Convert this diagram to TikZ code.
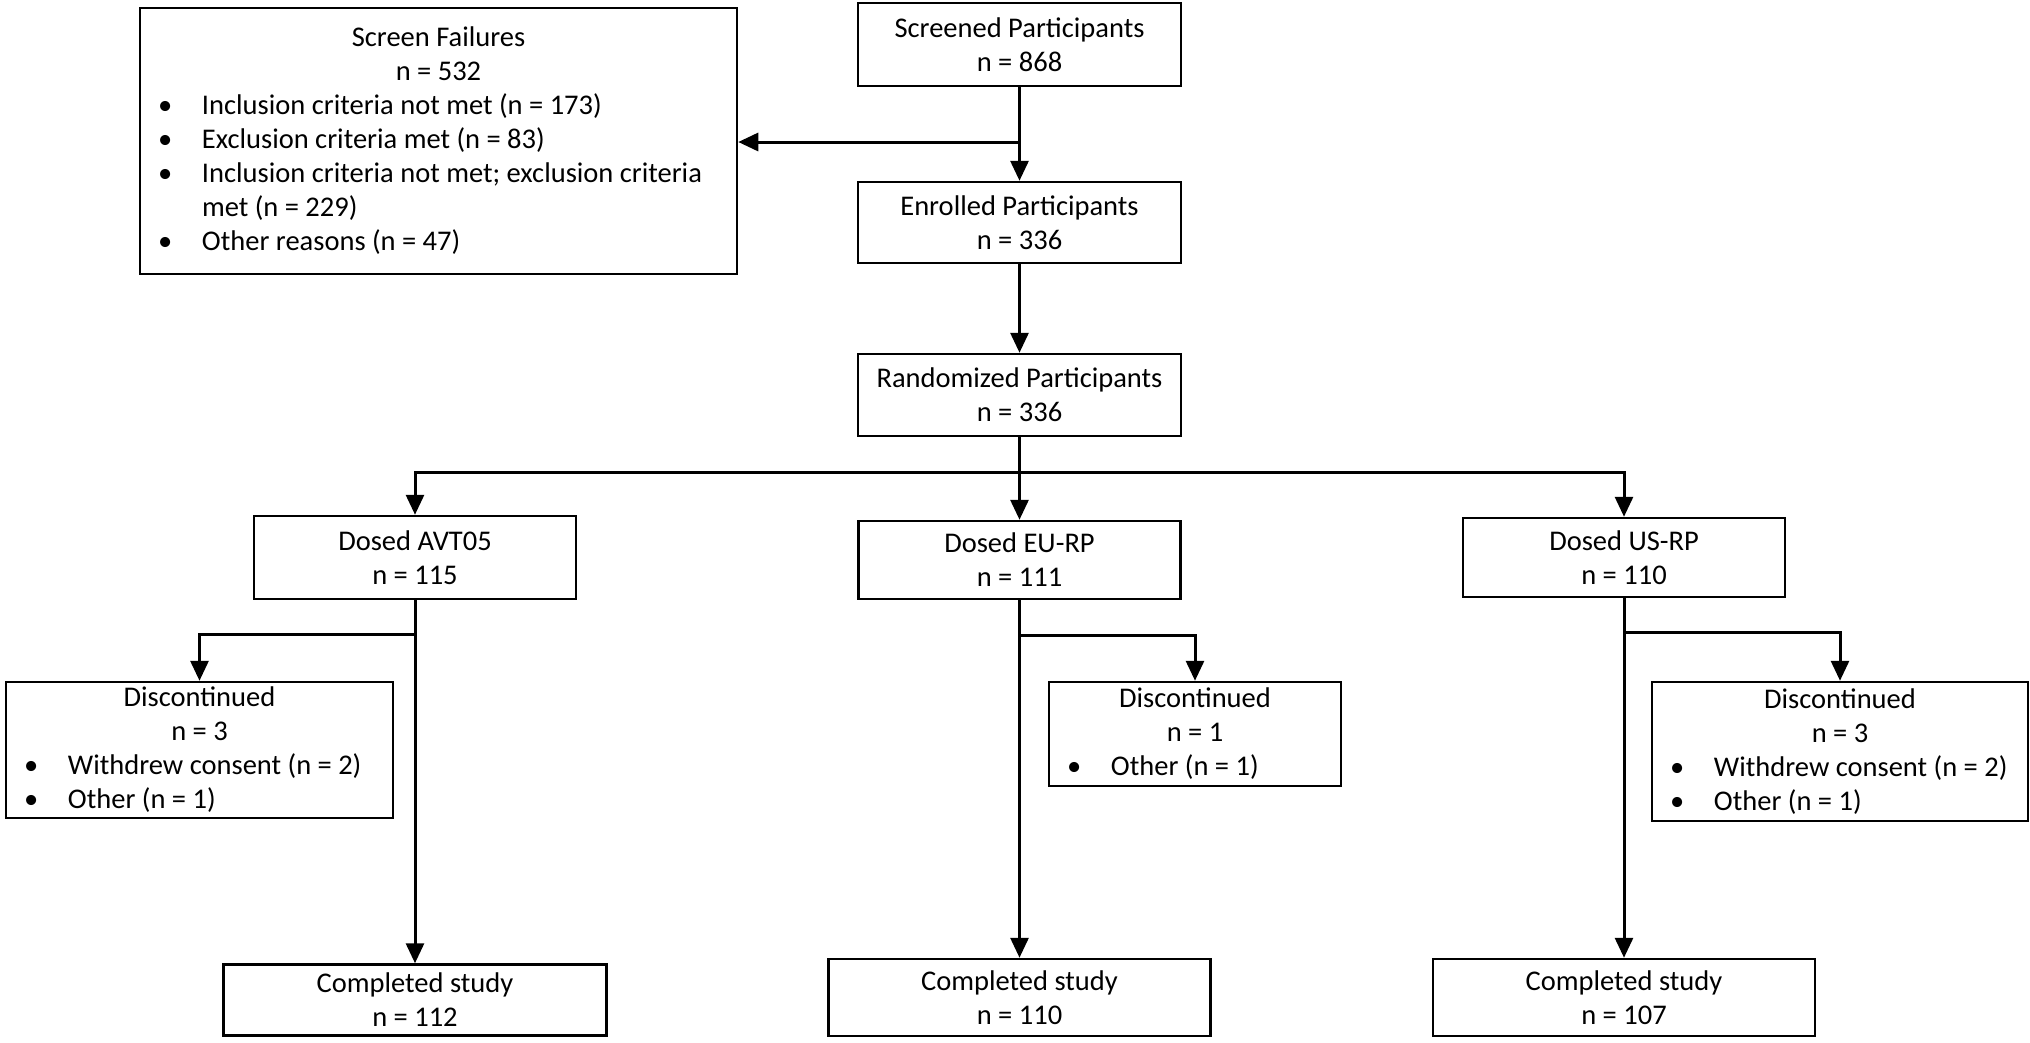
\documentclass[tikz,border=0pt]{standalone}
\usepackage{fontspec}
\setmainfont{Carlito}
\usetikzlibrary{arrows.meta}
\newcommand{\bli}[1]{\par\noindent\hangindent=44pt\hangafter=1\makebox[44pt][l]{\textbullet}#1}
\tikzset{
  box/.style={draw, line width=2.5pt, inner sep=0pt, align=center, font=\fontsize{28.5}{34}\selectfont},
  lbox/.style={draw, line width=2.5pt, inner sep=0pt, font=\fontsize{28.5}{34}\selectfont},
  arr/.style={line width=3pt, -{Triangle[length=20pt,width=18pt]}},
}
\begin{document}
\begin{tikzpicture}[x=1pt,y=-1pt]
\useasboundingbox (0,0) rectangle (2030,1042);
% boxes
\node[lbox, minimum width=597pt, minimum height=266pt] (sf) at (438.5,141)
 {\begin{minipage}{561pt}\centering Screen Failures\\ n = 532\par\raggedright
  \bli{Inclusion criteria not met (n = 173)}
  \bli{Exclusion criteria met (n = 83)}
  \bli{Inclusion criteria not met; exclusion criteria\newline met (n = 229)}
  \bli{Other reasons (n = 47)}\par\end{minipage}};
\node[box, minimum width=323pt, minimum height=83pt] (scr) at (1019.5,44.5) {Screened Participants\\ n = 868};
\node[box, minimum width=323pt, minimum height=81pt] (enr) at (1019.5,222.5) {Enrolled Participants\\ n = 336};
\node[box, minimum width=323pt, minimum height=82pt] (rnd) at (1019.5,395) {Randomized Participants\\ n = 336};
\node[box, minimum width=322pt, minimum height=83pt] (avt) at (415,557.5) {Dosed AVT05\\ n = 115};
\node[box, minimum width=322pt, minimum height=78pt] (eu) at (1019.5,560) {Dosed EU-RP\\ n = 111};
\node[box, minimum width=322pt, minimum height=79pt] (us) at (1624,557.5) {Dosed US-RP\\ n = 110};
\node[lbox, minimum width=387pt, minimum height=136pt] (d1) at (199.5,750)
 {\begin{minipage}{351pt}\centering Discontinued\\ n = 3\par\raggedright
  \bli{Withdrew consent (n = 2)}
  \bli{Other (n = 1)}\par\end{minipage}};
\node[lbox, minimum width=292pt, minimum height=104pt] (d2) at (1195,734)
 {\begin{minipage}{256pt}\centering Discontinued\\ n = 1\par\raggedright
  \bli{Other (n = 1)}\par\end{minipage}};
\node[lbox, minimum width=376pt, minimum height=139pt] (d3) at (1840,751.5)
 {\begin{minipage}{340pt}\centering Discontinued\\ n = 3\par\raggedright
  \bli{Withdrew consent (n = 2)}
  \bli{Other (n = 1)}\par\end{minipage}};
\node[box, minimum width=383pt, minimum height=71pt] (c1) at (415,1000) {Completed study\\ n = 112};
\node[box, minimum width=382pt, minimum height=77pt] (c2) at (1019.5,997.5) {Completed study\\ n = 110};
\node[box, minimum width=382pt, minimum height=77pt] (c3) at (1624,997.5) {Completed study\\ n = 107};
% junctions
\coordinate (j1) at (1019.5,142);
\coordinate (j2) at (1019.5,472);
\coordinate (ja) at (415,634);
\coordinate (je) at (1019.5,635);
\coordinate (ju) at (1624,632);
% connectors
\draw[arr] (scr.south) -- (enr.north);
\draw[arr] (j1) -- (j1 -| sf.east);
\draw[arr] (enr.south) -- (rnd.north);
\draw[arr] (rnd.south) -- (eu.north);
\draw[arr] (j2) -| (avt.north);
\draw[arr] (j2) -| (us.north);
\draw[arr] (avt.south) -- (c1.north);
\draw[arr] (ja) -| (d1.north);
\draw[arr] (eu.south) -- (c2.north);
\draw[arr] (je) -| (d2.north);
\draw[arr] (us.south) -- (c3.north);
\draw[arr] (ju) -| (d3.north);
\end{tikzpicture}
\end{document}
